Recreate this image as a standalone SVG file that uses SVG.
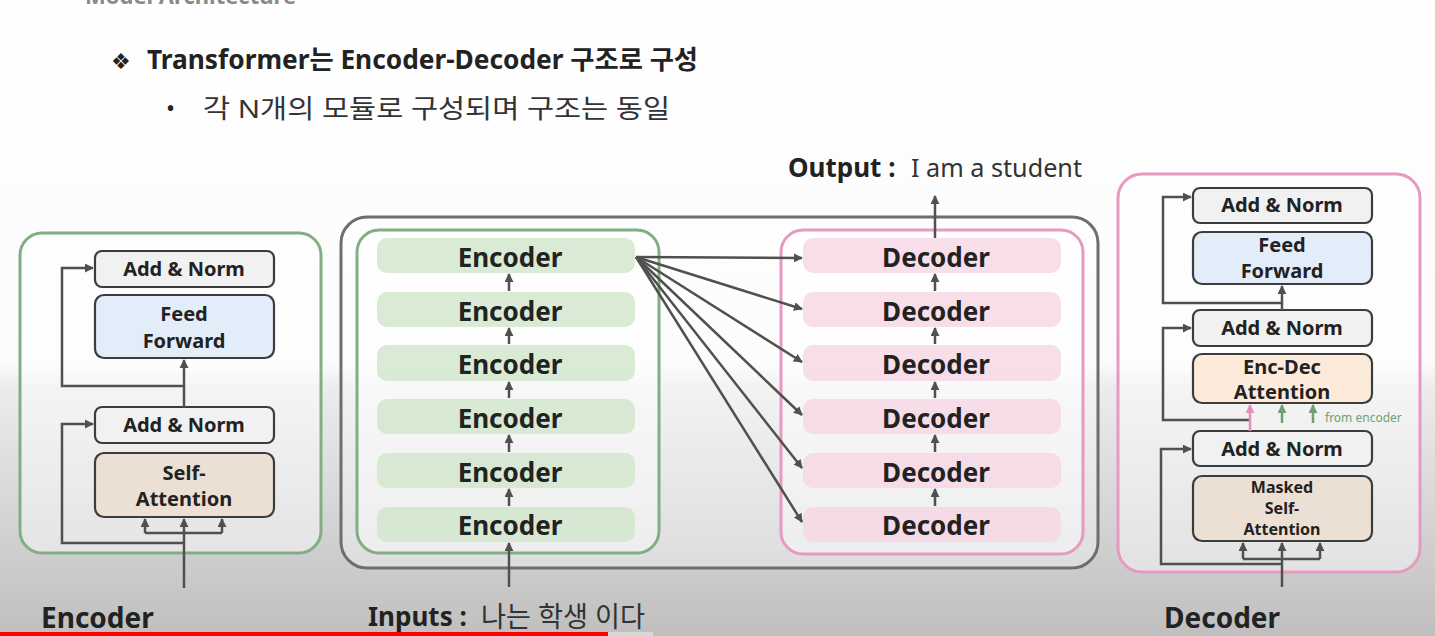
<svg xmlns="http://www.w3.org/2000/svg" width="1435" height="636" viewBox="0 0 1435 636">
<defs>
<linearGradient id="bg" x1="0" y1="0" x2="0" y2="1">
<stop offset="0" stop-color="#ffffff"/>
<stop offset="0.57" stop-color="#fbfbfb"/>
<stop offset="0.61" stop-color="#ececec"/>
<stop offset="1" stop-color="#bfbfbf"/>
</linearGradient>
<marker id="ah" viewBox="0 0 10 10" refX="9" refY="5" markerWidth="9" markerHeight="9" markerUnits="userSpaceOnUse" orient="auto"><path d="M0,0 L10,5 L0,10 z" fill="#505050"/></marker>
<marker id="ahp" viewBox="0 0 10 10" refX="9" refY="5" markerWidth="9" markerHeight="9" markerUnits="userSpaceOnUse" orient="auto"><path d="M0,0 L10,5 L0,10 z" fill="#e58fb8"/></marker>
<marker id="ahg" viewBox="0 0 10 10" refX="9" refY="5" markerWidth="9" markerHeight="9" markerUnits="userSpaceOnUse" orient="auto"><path d="M0,0 L10,5 L0,10 z" fill="#6f9f72"/></marker>
<style>
text{font-family:"Noto Sans","Noto Sans CJK KR","DejaVu Sans",sans-serif;fill:#222}
.b{font-weight:700}
.panel{fill:#ffffff;fill-opacity:0.45;stroke-width:3}
.gp{stroke:#84ad84}
.pp{stroke:#e79ac0}
.box{stroke:#3c3c3c;stroke-width:2.2}
.an{fill:#f1f1f1}
.ff{fill:#e2edf9}
.sa{fill:#ecdfd3}
.ed{fill:#fcebdb}
.enc{fill:#cfe6cb;fill-opacity:0.8}
.dec{fill:#f6d6e4;fill-opacity:0.8}
.lbl{font-size:20px;font-weight:700;text-anchor:middle}
.sm{font-size:16px}
.row{font-size:26px;font-weight:700;text-anchor:middle}
.c{fill:none;stroke:#505050;stroke-width:2.5}
</style>
</defs>
<rect x="0" y="0" width="1435" height="636" fill="url(#bg)"/>
<text x="85" y="4" class="b" font-size="22" style="fill:#8a8a8a">Model Architecture</text>
<g id="title">
<text x="111" y="69" font-size="22" style="font-family:'DejaVu Sans',sans-serif">❖</text>
<text x="147" y="69" class="b" font-size="26" textLength="551" lengthAdjust="spacingAndGlyphs">Transformer는 Encoder-Decoder 구조로 구성</text>
<text x="166" y="117" font-size="24">•</text>
<text x="203" y="118" font-size="26" textLength="467" lengthAdjust="spacingAndGlyphs" style="fill:#333">각 N개의 모듈로 구성되며 구조는 동일</text>
</g>

<g id="enc-panel">
<rect x="20" y="233" width="301" height="320" rx="22" class="panel gp"/>
<text x="41" y="628" class="b" font-size="28">Encoder</text>
</g>
<g id="enc-addnorm2"><rect x="95" y="251" width="179" height="36" rx="7" class="box an"/><text x="184" y="276" class="lbl">Add &amp; Norm</text></g>
<g id="enc-ff"><rect x="95" y="295" width="179" height="63" rx="9" class="box ff"/><text x="184" y="321" class="lbl">Feed</text><text x="184" y="348" class="lbl">Forward</text></g>
<g id="enc-addnorm1"><rect x="95" y="407" width="179" height="36" rx="7" class="box an"/><text x="184" y="432" class="lbl">Add &amp; Norm</text></g>
<g id="enc-sa"><rect x="95" y="453" width="179" height="64" rx="9" class="box sa"/><text x="184" y="480" class="lbl">Self-</text><text x="184" y="506" class="lbl">Attention</text></g>

<g id="stack-panel"><rect x="341" y="217" width="757" height="351" rx="26" fill="#ffffff" fill-opacity="0.35" stroke="#6e6e6e" stroke-width="3"/></g>
<g id="encoder-stack"><rect x="357" y="230" width="302" height="323" rx="22" class="panel gp" stroke="#7aa67a"/></g>
<g id="decoder-stack"><rect x="781" y="230" width="302" height="324" rx="22" class="panel pp"/></g>
<g id="e1"><rect x="377" y="238" width="258" height="35" rx="10" class="enc"/><text x="510" y="267" class="row">Encoder</text></g>
<g id="e2"><rect x="377" y="292" width="258" height="35" rx="10" class="enc"/><text x="510" y="321" class="row">Encoder</text></g>
<g id="e3"><rect x="377" y="345" width="258" height="36" rx="10" class="enc"/><text x="510" y="374" class="row">Encoder</text></g>
<g id="e4"><rect x="377" y="399" width="258" height="35" rx="10" class="enc"/><text x="510" y="428" class="row">Encoder</text></g>
<g id="e5"><rect x="377" y="453" width="258" height="35" rx="10" class="enc"/><text x="510" y="482" class="row">Encoder</text></g>
<g id="e6"><rect x="377" y="507" width="258" height="35" rx="10" class="enc"/><text x="510" y="535" class="row">Encoder</text></g>
<g id="d1"><rect x="803" y="238" width="258" height="35" rx="10" class="dec"/><text x="936" y="267" class="row">Decoder</text></g>
<g id="d2"><rect x="803" y="292" width="258" height="35" rx="10" class="dec"/><text x="936" y="321" class="row">Decoder</text></g>
<g id="d3"><rect x="803" y="345" width="258" height="36" rx="10" class="dec"/><text x="936" y="374" class="row">Decoder</text></g>
<g id="d4"><rect x="803" y="399" width="258" height="35" rx="10" class="dec"/><text x="936" y="428" class="row">Decoder</text></g>
<g id="d5"><rect x="803" y="453" width="258" height="35" rx="10" class="dec"/><text x="936" y="482" class="row">Decoder</text></g>
<g id="d6"><rect x="803" y="507" width="258" height="35" rx="10" class="dec"/><text x="936" y="535" class="row">Decoder</text></g>
<g id="output-label"><text x="788" y="177" class="b" font-size="26">Output :</text><text x="911" y="177" font-size="26" textLength="171" lengthAdjust="spacingAndGlyphs" style="fill:#333">I am a student</text></g>
<g id="input-label"><text x="368" y="626" class="b" font-size="26">Inputs :</text><text x="481" y="627" font-size="28" textLength="164" lengthAdjust="spacingAndGlyphs" style="fill:#333">나는 학생 이다</text></g>

<g id="dec-panel">
<rect x="1118" y="174" width="302" height="398" rx="24" class="panel pp"/>
<text x="1164" y="628" class="b" font-size="28">Decoder</text>
</g>
<g id="dec-addnorm3"><rect x="1193" y="188" width="179" height="35" rx="7" class="box an"/><text x="1282" y="212" class="lbl">Add &amp; Norm</text></g>
<g id="dec-ff"><rect x="1193" y="232" width="179" height="52" rx="9" class="box ff"/><text x="1282" y="252" class="lbl">Feed</text><text x="1282" y="278" class="lbl">Forward</text></g>
<g id="dec-addnorm2"><rect x="1193" y="310" width="179" height="36" rx="7" class="box an"/><text x="1282" y="335" class="lbl">Add &amp; Norm</text></g>
<g id="dec-ed"><rect x="1193" y="354" width="179" height="49" rx="9" class="box ed"/><text x="1282" y="374" class="lbl">Enc-Dec</text><text x="1282" y="399" class="lbl">Attention</text></g>
<g id="dec-addnorm1"><rect x="1193" y="431" width="179" height="35" rx="7" class="box an"/><text x="1282" y="456" class="lbl">Add &amp; Norm</text></g>
<g id="dec-msa"><rect x="1193" y="476" width="179" height="65" rx="9" class="box sa"/><text x="1282" y="493" class="lbl sm">Masked</text><text x="1282" y="514" class="lbl sm">Self-</text><text x="1282" y="535" class="lbl sm">Attention</text></g>
<text x="1325" y="422" font-size="12" style="fill:#6f9f72">from encoder</text>

<g id="connectors">
<path class="c" d="M184,407 L184,360" marker-end="url(#ah)"/>
<path class="c" d="M184,386 L62,386 L62,268 L93,268" marker-end="url(#ah)"/>
<path class="c" d="M184,588 L184,519" marker-end="url(#ah)"/>
<path class="c" d="M145,533 L222,533"/>
<path class="c" d="M145,533 L145,519" marker-end="url(#ah)"/>
<path class="c" d="M222,533 L222,519" marker-end="url(#ah)"/>
<path class="c" d="M184,543 L62,543 L62,424 L93,424" marker-end="url(#ah)"/>
<path class="c" d="M509,291 L509,274" marker-end="url(#ah)"/>
<path class="c" d="M509,344 L509,328" marker-end="url(#ah)"/>
<path class="c" d="M509,398 L509,382" marker-end="url(#ah)"/>
<path class="c" d="M509,452 L509,435" marker-end="url(#ah)"/>
<path class="c" d="M509,506 L509,489" marker-end="url(#ah)"/>
<path class="c" d="M509,587 L509,543" marker-end="url(#ah)"/>
<path class="c" d="M935,291 L935,274" marker-end="url(#ah)"/>
<path class="c" d="M935,344 L935,328" marker-end="url(#ah)"/>
<path class="c" d="M935,398 L935,382" marker-end="url(#ah)"/>
<path class="c" d="M935,452 L935,435" marker-end="url(#ah)"/>
<path class="c" d="M935,506 L935,489" marker-end="url(#ah)"/>
<path class="c" d="M935,238 L935,196" marker-end="url(#ah)"/>
<path class="c" d="M636,257 L802,258" marker-end="url(#ah)"/>
<path class="c" d="M636,257 L802,309" marker-end="url(#ah)"/>
<path class="c" d="M636,257 L802,362" marker-end="url(#ah)"/>
<path class="c" d="M636,257 L802,415" marker-end="url(#ah)"/>
<path class="c" d="M636,257 L802,468" marker-end="url(#ah)"/>
<path class="c" d="M636,257 L802,522" marker-end="url(#ah)"/>
<path class="c" d="M1282,310 L1282,286" marker-end="url(#ah)"/>
<path class="c" d="M1282,303 L1163,303 L1163,197 L1191,197" marker-end="url(#ah)"/>
<path class="c" d="M1250,420 L1163,420 L1163,328 L1191,328" marker-end="url(#ah)"/>
<path fill="none" stroke="#e58fb8" stroke-width="2.5" d="M1250,431 L1250,405" marker-end="url(#ahp)"/>
<path fill="none" stroke="#6f9f72" stroke-width="2.5" d="M1282,423 L1282,405" marker-end="url(#ahg)"/>
<path fill="none" stroke="#6f9f72" stroke-width="2.5" d="M1313,423 L1313,405" marker-end="url(#ahg)"/>
<path class="c" d="M1282,587 L1282,543" marker-end="url(#ah)"/>
<path class="c" d="M1243,559 L1320,559"/>
<path class="c" d="M1243,559 L1243,543" marker-end="url(#ah)"/>
<path class="c" d="M1320,559 L1320,543" marker-end="url(#ah)"/>
<path class="c" d="M1282,564 L1161,564 L1161,449 L1191,449" marker-end="url(#ah)"/>
</g>
<rect x="0" y="632" width="608" height="4" fill="#ff0000"/>
<rect x="608" y="632" width="45" height="4" fill="#d8d8d8"/>
</svg>
